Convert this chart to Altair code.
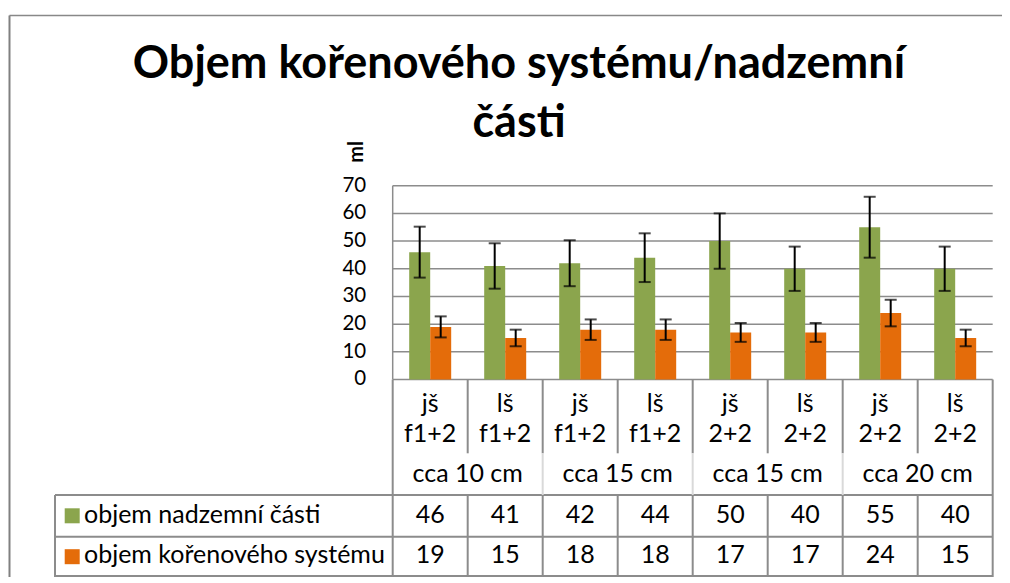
import altair as alt
import pandas as pd

# ---------------- data ----------------
cat_ids = ["c1", "c2", "c3", "c4", "c5", "c6", "c7", "c8"]
cat_labels = ["jš\nf1+2", "lš\nf1+2", "jš\nf1+2", "lš\nf1+2",
              "jš\n2+2", "lš\n2+2", "jš\n2+2", "lš\n2+2"]
group_first = ["c1", "c3", "c5", "c7"]
group_labels = ["cca 10 cm", "cca 15 cm", "cca 15 cm", "cca 20 cm"]
series_names = ["objem nadzemní části", "objem kořenového systému"]
nadzemni = [46, 41, 42, 44, 50, 40, 55, 40]
korenovy = [19, 15, 18, 18, 17, 17, 24, 15]
err_nadzemni = [9.2, 8.2, 8.3, 8.8, 10.0, 8.0, 11.0, 8.0]
err_korenovy = [3.8, 3.0, 3.7, 3.7, 3.4, 3.4, 4.8, 3.0]
y_ticks = [0, 10, 20, 30, 40, 50, 60, 70]
y_title = "ml"
colors = ["#8BA54D", "#E46C0A"]
title_lines = "Objem kořenového systému/nadzemní\nčásti"

rows = []
for s, vals, errs in [(series_names[0], nadzemni, err_nadzemni),
                      (series_names[1], korenovy, err_korenovy)]:
    for c, v, e in zip(cat_ids, vals, errs):
        rows.append({"cat": c, "series": s, "value": v, "lo": v - e, "hi": v + e})
df = pd.DataFrame(rows)
df_cats = pd.DataFrame({"cat": cat_ids, "label": cat_labels})
df_groups = pd.DataFrame({"cat": group_first, "label": group_labels})
df_leg = pd.DataFrame({"series": series_names})
df_ticks = pd.DataFrame({"tick": y_ticks})
one = pd.DataFrame({"k": [0]})

# ---------------- layout ----------------
FONT = "Lato"
TFS = 25            # table font size
W = 600
H = 391.3
PH = 193.8          # height of the bar area
GRID = "#8c8c8c"
LIGHT = "#d9d9d9"
ROW1 = 309.3
ROW2 = 351.0
BOTTOM = 391.3
CATROW = 267.6
LEGX = -337.7

xscale = alt.Scale(domain=cat_ids, paddingInner=0, paddingOuter=0)
yscale = alt.Scale(domain=[0, 70], range=[PH, 0], nice=False)
X = alt.X("cat:N", scale=xscale, axis=None, sort=cat_ids)
XO = alt.XOffset("series:N", sort=series_names,
                 scale=alt.Scale(domain=series_names, paddingInner=0, paddingOuter=0.786))

# y axis drawn from the scale: grid, labels, title
grid = alt.Chart(df_ticks).mark_rule(color=GRID, strokeWidth=1.5).encode(
    y=alt.Y("tick:Q", scale=yscale, axis=None), x=alt.value(0), x2=alt.value(W))
ylabels = alt.Chart(df_ticks).mark_text(
    font=FONT, fontSize=20.5, align="right", baseline="middle", color="#000"
).encode(y=alt.Y("tick:Q", scale=yscale, axis=None), x=alt.value(-26.5), text="tick:Q")
ydomain = alt.Chart(one).mark_rule(color=GRID, strokeWidth=1.5).encode(
    x=alt.value(0), y=alt.value(0), y2=alt.value(PH))
ytitle = alt.Chart(one).mark_text(
    font=FONT, fontSize=20, fontWeight="bold", angle=270, align="center",
    baseline="alphabetic", color="#000"
).encode(x=alt.value(-29.7), y=alt.value(-33.7), text=alt.value(y_title))

base = alt.Chart(df)
bars = base.mark_bar().encode(
    x=X, xOffset=XO,
    y=alt.Y("value:Q", scale=yscale, axis=None),
    color=alt.Color("series:N", scale=alt.Scale(domain=series_names, range=colors),
                    legend=None),
)
err_rule = base.mark_rule(color="black", strokeWidth=2).encode(
    x=X, xOffset=XO,
    y=alt.Y("lo:Q", scale=yscale, axis=None), y2="hi:Q")
cap_hi = base.mark_tick(color="black", thickness=2, size=12, orient="horizontal").encode(
    x=X, xOffset=XO, y=alt.Y("hi:Q", scale=yscale, axis=None))
cap_lo = base.mark_tick(color="black", thickness=2, size=12, orient="horizontal").encode(
    x=X, xOffset=XO, y=alt.Y("lo:Q", scale=yscale, axis=None))

# title
title = alt.Chart(one).mark_text(
    font=FONT, fontSize=45, fontWeight="bold", align="center", baseline="alphabetic",
    lineBreak="\n", lineHeight=58.7, color="#000"
).encode(x=alt.value(126.3), y=alt.value(-107.7), text=alt.value(title_lines))

# table texts
cat_text = alt.Chart(df_cats).mark_text(
    font=FONT, fontSize=TFS, lineBreak="\n", lineHeight=30, baseline="alphabetic", color="#000"
).encode(x=X, y=alt.value(226), text="label:N")
grp_text = alt.Chart(df_groups).mark_text(
    font=FONT, fontSize=TFS, baseline="alphabetic", color="#000"
).encode(x=alt.X("cat:N", scale=xscale, axis=None, bandPosition=1),
         y=alt.value(296), text="label:N")
val1 = alt.Chart(df[df.series == series_names[0]]).mark_text(
    font=FONT, fontSize=TFS, baseline="alphabetic", color="#000"
).encode(x=X, y=alt.value(337.6), text="value:Q")
val2 = alt.Chart(df[df.series == series_names[1]]).mark_text(
    font=FONT, fontSize=TFS, baseline="alphabetic", color="#000"
).encode(x=X, y=alt.value(377.6), text="value:Q")

leg_sq1 = alt.Chart(df_leg.iloc[[0]]).mark_square(size=225, opacity=1, color=colors[0]).encode(
    x=alt.value(-320.5), y=alt.value(330.1))
leg_sq2 = alt.Chart(df_leg.iloc[[1]]).mark_square(size=225, opacity=1, color=colors[1]).encode(
    x=alt.value(-320.5), y=alt.value(371.0))
leg_t1 = alt.Chart(df_leg.iloc[[0]]).mark_text(
    font=FONT, fontSize=TFS, align="left", baseline="alphabetic", color="#000"
).encode(x=alt.value(-308.7), y=alt.value(337.6), text="series:N")
leg_t2 = alt.Chart(df_leg.iloc[[1]]).mark_text(
    font=FONT, fontSize=TFS, align="left", baseline="alphabetic", color="#000"
).encode(x=alt.value(-308.7), y=alt.value(377.6), text="series:N")

# table grid lines
def hline(y, x1, x2, color=GRID, w=2):
    return alt.Chart(one).mark_rule(color=color, strokeWidth=w).encode(
        x=alt.value(x1), x2=alt.value(x2), y=alt.value(y))

def vlines(cats, y1, y2, band=0, color=GRID, w=2):
    return alt.Chart(pd.DataFrame({"cat": cats})).mark_rule(color=color, strokeWidth=w).encode(
        x=alt.X("cat:N", scale=xscale, axis=None, bandPosition=band),
        y=alt.value(y1), y2=alt.value(y2))

lines = [
    hline(ROW1, LEGX, W), hline(ROW2, LEGX, W), hline(BOTTOM - 1, LEGX, W),
    alt.Chart(one).mark_rule(color=GRID, strokeWidth=2).encode(
        x=alt.value(LEGX), y=alt.value(ROW1), y2=alt.value(BOTTOM)),
    vlines(["c1"], PH, BOTTOM, 0),
    vlines(["c8"], PH, BOTTOM, 1),
    vlines(cat_ids[1:], PH, CATROW, 0),
    vlines(cat_ids[1:], ROW1, BOTTOM, 0),
    vlines(["c3", "c5", "c7"], CATROW, ROW1, 0, color=LIGHT),
    # outer chart frame
    alt.Chart(one).mark_rule(color="#888888", strokeWidth=1.5).encode(
        x=alt.value(-383.2), x2=alt.value(640), y=alt.value(-170.2)),
    alt.Chart(one).mark_rule(color="#808080", strokeWidth=2).encode(
        x=alt.value(-383.2), y=alt.value(-170.2), y2=alt.value(420)),
]

chart = alt.layer(
    grid, ydomain, ylabels, ytitle,
    bars, err_rule, cap_hi, cap_lo, title, cat_text, grp_text, val1, val2,
    leg_sq1, leg_sq2, leg_t1, leg_t2, *lines
).properties(
    width=W, height=H,
    autosize=alt.AutoSizeParams(type="none"),
    padding={"left": 384.7, "top": 177.7, "right": 9, "bottom": 0},
    background="white",
).configure_view(stroke=None)

chart.save("out.html", embed_options={"renderer": "svg", "actions": False})
